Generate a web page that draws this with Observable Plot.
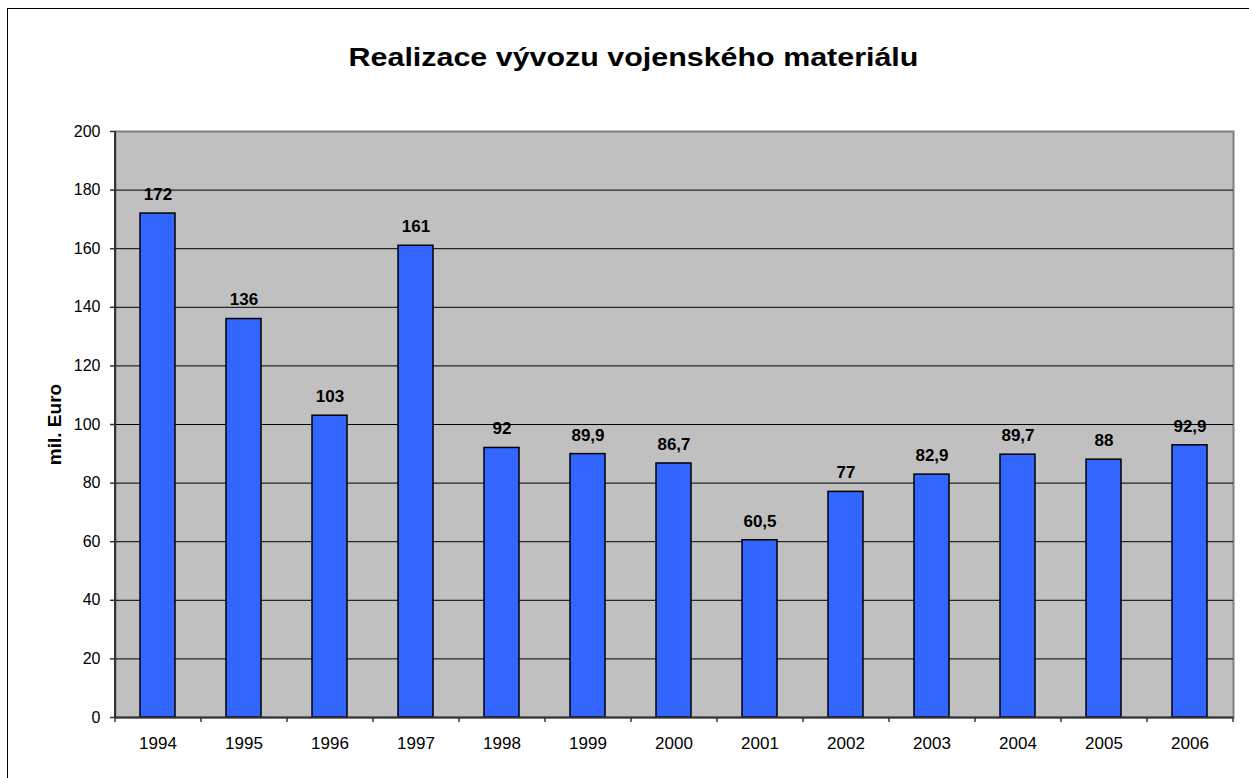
<!DOCTYPE html>
<html><head><meta charset="utf-8">
<script src="https://cdn.jsdelivr.net/npm/d3@7"></script>
<script src="https://cdn.jsdelivr.net/npm/@observablehq/plot@0.6"></script>
<style>
body{margin:0;background:#fff;font-family:"Liberation Sans",Arial,sans-serif;}
#wrap{position:relative;width:1249px;height:778px;overflow:hidden;}
#border{position:absolute;left:7px;top:8px;width:1260px;height:800px;border:1px solid #000;box-sizing:border-box;}
#title{position:absolute;left:0;width:1267px;top:42px;text-align:center;font-weight:bold;font-size:26px;transform:scaleX(1.17);transform-origin:633.5px 0;}
#chart{position:absolute;left:0;top:0;}
</style></head>
<body><div id="wrap"><div id="border"></div><div id="title">Realizace vývozu vojenského materiálu</div><div id="chart"></div></div>
<script>
const years = ["1994","1995","1996","1997","1998","1999","2000","2001","2002","2003","2004","2005","2006"];
const values = [172,136,103,161,92,89.9,86.7,60.5,77,82.9,89.7,88,92.9];
const yTicks = [0,20,40,60,80,100,120,140,160,180,200];
const data = years.map((y,i)=>({year:y, value:values[i]}));
const fmt = v => String(v).replace(".", ",");
const band = (1233-115)/years.length;
const plot = Plot.plot({
  width:1249, height:778,
  marginLeft:115, marginRight:16, marginTop:131, marginBottom:61,
  style:{fontFamily:"'Liberation Sans', Arial, sans-serif", fontSize:"16px", background:"transparent", color:"#000"},
  x:{domain:years, paddingInner:0.59, paddingOuter:0.295, label:null},
  y:{domain:[0,200], ticks:yTicks, label:null},
  marks:[
    Plot.frame({fill:"#C0C0C0", stroke:"#808080", strokeWidth:2}),
    Plot.ruleY(yTicks.filter(d=>d>0 && d<200), {stroke:"#000", strokeWidth:1}),
    Plot.barY(data, {x:"year", y:"value", fill:"#3366FF", stroke:"#000", strokeWidth:1.5}),
    Plot.text(data, {x:"year", y:"value", text:d=>fmt(d.value), dy:-19, fontWeight:"bold", fontSize:17}),
    Plot.ruleX([years[0]], {x:d=>d, dx:-band/2, stroke:"#333", strokeWidth:2}),
    Plot.ruleY([0], {stroke:"#333", strokeWidth:2}),
    Plot.axisY({ticks:yTicks, tickSize:5, tickPadding:10, fontSize:16, label:null, stroke:"#333", strokeWidth:1.5}),
    Plot.axisX({tickSize:0, tickPadding:19, fontSize:17, label:null}),
    Plot.ruleX(years, {x:d=>d, y1:0, y2:-1.7, dx:-band/2, stroke:"#333", strokeWidth:1.5}),
    Plot.ruleX([years[years.length-1]], {x:d=>d, y1:0, y2:-1.7, dx:band/2, stroke:"#333", strokeWidth:1.5}),
    Plot.text(["mil. Euro"], {frameAnchor:"left", textAnchor:"middle", dx:-61, rotate:-90, fontWeight:"bold", fontSize:19})
  ]
});
document.getElementById("chart").appendChild(plot);
</script></body></html>
